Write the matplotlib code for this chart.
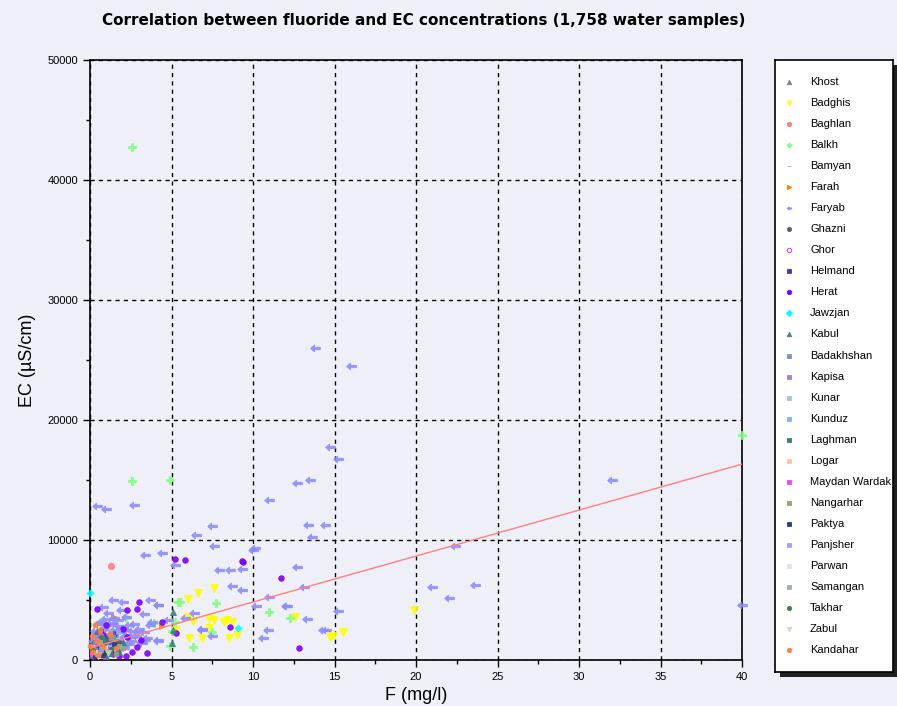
import matplotlib
matplotlib.use("Agg")
import matplotlib.pyplot as plt
from matplotlib.patches import Rectangle
from matplotlib.path import Path

TITLE = "Correlation between fluoride and EC concentrations (1,758 water samples)"
XLABEL = "F (mg/l)"
YLABEL = "EC (\u00b5S/cm)"
x_ticks = [0, 5, 10, 15, 20, 25, 30, 35, 40]
y_ticks = [0, 10000, 20000, 30000, 40000, 50000]

# regression line
REG_INTERCEPT = 1000
REG_SLOPE = 383

provinces = ["Khost", "Badghis", "Baghlan", "Balkh", "Bamyan", "Farah", "Faryab",
             "Ghazni", "Ghor", "Helmand", "Herat", "Jawzjan", "Kabul", "Badakhshan",
             "Kapisa", "Kunar", "Kunduz", "Laghman", "Logar", "Maydan Wardak",
             "Nangarhar", "Paktya", "Panjsher", "Parwan", "Samangan", "Takhar",
             "Zabul", "Kandahar"]

# ---- data (F mg/l, EC uS/cm) ----
khost_f = [0.4, 0.8, 1.1, 0.6]
khost_ec = [900, 1300, 700, 1600]

badghis_f = [6.6, 7.6, 6.0, 7.3, 7.6, 6.3, 6.0, 8.2, 8.4, 8.7, 7.3, 6.1, 6.9, 8.5, 9.0,
             12.6, 5.3, 15.5, 14.7, 14.9, 19.9, 0.5, 1.2]
badghis_ec = [5550, 6000, 5100, 3400, 3300, 3250, 3600, 3200, 3300, 3200, 2700, 1850,
              1850, 1850, 2100, 3600, 2500, 2350, 1950, 2000, 4200, 2900, 1800]

baghlan_f = [1.3, 0.3, 0.7, 1.0, 1.5, 0.2, 0.9]
baghlan_ec = [7850, 1400, 2100, 900, 1700, 600, 2700]

balkh_f = [2.6, 40.0, 2.6, 4.9, 7.7, 5.5, 5.2, 5.0, 7.5, 4.9, 6.3, 11.0, 12.3, 2.2,
           3.9, 5.4, 0.8, 1.6, 0.4]
balkh_ec = [42750, 18750, 14900, 15000, 4750, 4850, 3200, 2400, 2350, 1150, 1050,
            4000, 3500, 3500, 3100, 4850, 2700, 1900, 1300]

bamyan_f = [0.3, 0.7, 1.2]
bamyan_ec = [500, 1100, 800]

farah_f = [4.4, 1.5, 0.6, 1.0, 2.2, 0.2, 1.8]
farah_ec = [2850, 3600, 2300, 1600, 1200, 1000, 2600]

faryab_f = [13.8, 16.0, 14.7, 15.2, 13.5, 12.7, 11.0, 13.4, 14.4, 13.6, 10.1, 0.4, 1.0,
            2.7, 7.5, 6.5, 7.6, 3.4, 4.4, 5.2, 7.9, 8.6, 9.3, 8.7, 9.3, 10.0, 12.7,
            10.2, 11.0, 12.1, 6.4, 6.9, 7.5, 4.2, 4.2, 5.8, 10.9, 10.6, 13.1, 12.0,
            13.3, 14.3, 14.5, 15.2, 21.0, 22.0, 23.6, 22.4, 32.0, 40.0,
            1.4, 2.0, 3.7, 4.2, 3.3, 3.8, 4.8, 3.4, 4.2, 6.9,
            0.3, 0.5, 0.6, 0.8, 0.9, 1.0, 1.1, 1.2, 1.3, 1.4, 1.5, 1.6, 1.7, 1.8,
            1.9, 2.0, 2.1, 2.2, 2.3, 2.4, 2.5, 2.6, 2.8, 3.0, 3.1, 3.3, 3.5, 3.7,
            0.2, 0.4, 0.7, 1.0, 1.2, 1.5, 1.8, 2.0, 2.2, 2.6, 2.9, 3.2, 0.5, 0.9,
            1.3, 1.6, 2.1, 2.4, 2.7, 1.1, 1.9, 0.8]
faryab_ec = [26000, 24500, 17750, 16750, 15000, 14750, 13350, 11250, 11250, 10250,
             9300, 12800, 12550, 12900, 11200, 10400, 9500, 8750, 8900, 7900, 7500,
             7500, 7600, 6200, 5800, 9200, 7750, 4500, 5250, 4500, 3900, 2600, 2000,
             4600, 1700, 3500, 2500, 1800, 6100, 4500, 3400, 2500, 2500, 4100, 6100,
             5200, 6250, 9500, 15000, 4600,
             5000, 4800, 5000, 4600, 3800, 3200, 3300, 1700, 1600, 2500,
             2400, 3000, 1800, 2600, 3400, 2200, 1500, 2900, 3100, 2000, 2500, 1700,
             3300, 2300, 1400, 2700, 1900, 3600, 2100, 2900, 1600, 2400, 2000, 2600,
             1500, 2300, 1800, 2900, 1600, 2100, 3200, 1300, 1900, 3500, 2800, 1200,
             2500, 1900, 2300, 1400, 1100, 900, 1200, 1500, 1000, 1300, 3000, 3900,
             4200, 4400]

ghazni_f = [0.5, 1.1, 0.8, 1.6]
ghazni_ec = [1000, 600, 1900, 1300]

ghor_f = [0.2, 0.6, 1.0, 1.4, 0.9, 0.3]
ghor_ec = [300, 900, 400, 1100, 1600, 2000]

helmand_f = [0.4, 0.9, 1.3, 0.7]
helmand_ec = [1200, 1800, 800, 2400]

herat_f = [5.2, 5.8, 9.3, 9.4, 11.7, 12.8, 0.4, 3.0, 2.3, 2.9, 1.8, 5.3, 8.6, 4.4,
           0.3, 0.6, 0.9, 1.2, 1.5, 1.8, 2.0, 2.3, 2.6, 2.9, 3.1, 3.5, 1.0, 1.4,
           2.2, 0.8]
herat_ec = [8400, 8300, 8250, 8200, 6800, 1000, 4250, 4800, 4200, 4250, 300, 2250,
            2750, 3200, 400, 1200, 800, 1600, 2200, 1400, 2600, 1900, 700, 1100, 1700,
            600, 2900, 500, 300, 2100]

jawzjan_f = [0.0, 9.1, 0.5]
jawzjan_ec = [5600, 2700, 1500]

kabul_f = [5.1, 5.1, 5.0, 0.1, 0.3, 0.5, 0.7, 0.9, 1.1, 1.3, 1.5, 1.7, 0.2, 0.6, 1.0,
           1.4, 1.8, 2.0, 0.4, 0.8]
kabul_ec = [4000, 2500, 1400, 400, 800, 1300, 500, 1000, 1700, 600, 1200, 900, 1500,
            2000, 300, 2200, 700, 1500, 2400, 1900]

badakhshan_f = [0.3, 0.8, 1.4]
badakhshan_ec = [1500, 700, 1900]

kapisa_f = [0.4, 1.0]
kapisa_ec = [800, 1300]

kunar_f = [0.2, 0.9]
kunar_ec = [600, 1000]

kunduz_f = [0.5, 1.2, 1.7]
kunduz_ec = [1700, 1100, 2300]

laghman_f = [0.3, 0.7, 1.1]
laghman_ec = [700, 1400, 500]

logar_f = [0.2, 0.6]
logar_ec = [1100, 500]

wardak_f = [0.1, 0.4, 0.8, 1.2, 0.6]
wardak_ec = [500, 1500, 300, 900, 2200]

nangarhar_f = [0.2, 0.5, 0.9, 1.3, 1.6, 2.0, 0.7]
nangarhar_ec = [1000, 600, 1200, 1800, 500, 1000, 2000]

paktya_f = [0.3, 0.6, 1.0, 1.5, 0.8]
paktya_ec = [300, 1100, 700, 1300, 400]

panjsher_f = [0.4, 0.7]
panjsher_ec = [500, 1000]

parwan_f = [0.3, 0.9]
parwan_ec = [700, 1200]

samangan_f = [0.6, 1.2, 1.8]
samangan_ec = [1500, 2300, 1200]

takhar_f = [0.2, 0.5, 0.9, 1.3, 1.7, 0.7]
takhar_ec = [800, 400, 1400, 900, 1600, 1900]

zabul_f = [0.5, 1.1]
zabul_ec = [300, 600]

kandahar_f = [0.0, 0.1, 0.2, 0.4, 0.6, 0.3, 0.8, 1.2, 0.5, 1.6]
kandahar_ec = [1200, 2000, 700, 1600, 2500, 2900, 1100, 2200, 400, 1000]

series_x = [khost_f, badghis_f, baghlan_f, balkh_f, bamyan_f, farah_f, faryab_f,
            ghazni_f, ghor_f, helmand_f, herat_f, jawzjan_f, kabul_f, badakhshan_f,
            kapisa_f, kunar_f, kunduz_f, laghman_f, logar_f, wardak_f, nangarhar_f,
            paktya_f, panjsher_f, parwan_f, samangan_f, takhar_f, zabul_f, kandahar_f]
series_y = [khost_ec, badghis_ec, baghlan_ec, balkh_ec, bamyan_ec, farah_ec, faryab_ec,
            ghazni_ec, ghor_ec, helmand_ec, herat_ec, jawzjan_ec, kabul_ec, badakhshan_ec,
            kapisa_ec, kunar_ec, kunduz_ec, laghman_ec, logar_ec, wardak_ec, nangarhar_ec,
            paktya_ec, panjsher_ec, parwan_ec, samangan_ec, takhar_ec, zabul_ec, kandahar_ec]

arrow = Path([(-1, 0), (-0.2, 0.7), (-0.2, 0.25), (1, 0.25), (1, -0.25), (-0.2, -0.25),
              (-0.2, -0.7), (-1, 0)], closed=True)

styles = {
    "Khost": dict(marker="^", color="#808080", ms=4),
    "Badghis": dict(marker="v", color="#FFFF00", ms=5.5),
    "Baghlan": dict(marker="o", color="#FF8080", ms=4.5),
    "Balkh": dict(marker="P", color="#80FF80", ms=5.5),
    "Bamyan": dict(marker="_", color="#B0B0B0", ms=4),
    "Farah": dict(marker=">", color="#FF8000", ms=4.5),
    "Faryab": dict(marker=arrow, color="#8C8CFF", ms=7),
    "Ghazni": dict(marker="o", color="#606060", ms=3),
    "Ghor": dict(marker="o", color="#FF00FF", ms=4, mfc="none"),
    "Helmand": dict(marker="s", color="#4040A0", ms=2.5),
    "Herat": dict(marker="o", color="#8000FF", ms=4),
    "Jawzjan": dict(marker="D", color="#00FFFF", ms=3.5),
    "Kabul": dict(marker="^", color="#408080", ms=4),
    "Badakhshan": dict(marker="s", color="#8090C0", ms=2.5),
    "Kapisa": dict(marker="s", color="#A080D0", ms=2.5),
    "Kunar": dict(marker="s", color="#A0C8C8", ms=2.5),
    "Kunduz": dict(marker="s", color="#80B0FF", ms=2.5),
    "Laghman": dict(marker="s", color="#408060", ms=2.5),
    "Logar": dict(marker="s", color="#FFC0A0", ms=2.5),
    "Maydan Wardak": dict(marker="s", color="#FF40FF", ms=2.5),
    "Nangarhar": dict(marker="s", color="#A0A070", ms=2.5),
    "Paktya": dict(marker="s", color="#204080", ms=2.5),
    "Panjsher": dict(marker="s", color="#A0A0FF", ms=2.5),
    "Parwan": dict(marker="s", color="#E0E0E0", ms=2.5),
    "Samangan": dict(marker="s", color="#A0B0A0", ms=2.5),
    "Takhar": dict(marker="o", color="#408040", ms=3),
    "Zabul": dict(marker="v", color="#C0E0C0", ms=4),
    "Kandahar": dict(marker="o", color="#FF8040", ms=3.5),
}

W, H = 897, 706
BG = "#EFEFF8"
FONT = "Liberation Sans"
fig = plt.figure(figsize=(W / 100, H / 100), dpi=100, facecolor=BG)
ax = fig.add_axes([90 / W, 1 - 660 / H, (742 - 90) / W, (660 - 60) / H], facecolor=BG)

for name, xs, ys in zip(provinces, series_x, series_y):
    st = dict(styles[name])
    mfc = st.pop("mfc", None)
    ax.plot(xs, ys, linestyle="none", marker=st["marker"], color=st["color"],
            markersize=st["ms"], markeredgewidth=0.6 if st["marker"] != "_" else 1.5,
            markerfacecolor=mfc if mfc else st["color"], alpha=0.9, zorder=3,
            clip_on=False)

xl = [x_ticks[0], x_ticks[-1]]
ax.plot(xl, [REG_INTERCEPT + REG_SLOPE * v for v in xl], color="#FF8080", lw=1, zorder=4)

ax.set_xlim(0, 40)
ax.set_ylim(0, 50000)
ax.set_xticks(x_ticks)
ax.set_yticks(y_ticks)
ax.set_xticks([2.5 + 5 * i for i in range(8)], minor=True)
ax.set_yticks([5000 + 10000 * i for i in range(5)], minor=True)
ax.tick_params(which="major", direction="out", length=5, width=1, labelsize=8, color="black")
ax.tick_params(which="minor", direction="out", length=3, width=1)
for lab in ax.get_xticklabels() + ax.get_yticklabels():
    lab.set_family(FONT)
ax.grid(True, which="major", color="black", linestyle=(0, (3, 3)), linewidth=1)
ax.set_axisbelow(True)
for sp in ax.spines.values():
    sp.set_linewidth(1.2)
ax.set_xlabel(XLABEL, fontsize=13, labelpad=4, family=FONT)
ax.set_ylabel(YLABEL, fontsize=13, labelpad=8, family=FONT)

fig.text(424 / W, 1 - 20 / H, TITLE, ha="center", va="center", fontsize=11,
         fontweight="bold")

# legend panel
lx0, ly0, lx1, ly1 = 775, 60, 893, 672
shadow = Rectangle(((lx0 + 5) / W, 1 - (ly1 + 5) / H), (lx1 - lx0) / W,
                   (ly1 - ly0) / H, transform=fig.transFigure,
                   facecolor="#202020", edgecolor="none", zorder=1)
fig.patches.append(shadow)
lax = fig.add_axes([lx0 / W, 1 - ly1 / H, (lx1 - lx0) / W, (ly1 - ly0) / H],
                   facecolor="white")
lax.set_zorder(3)
lax.set_xlim(lx0, lx1)
lax.set_ylim(ly1, ly0)
lax.set_xticks([])
lax.set_yticks([])
for sp in lax.spines.values():
    sp.set_linewidth(1.2)
for i, name in enumerate(provinces):
    yy = 82 + i * 21.04
    st = dict(styles[name])
    mfc = st.pop("mfc", None)
    lax.plot([789], [yy], linestyle="none", marker=st["marker"], color=st["color"],
             markersize=min(st["ms"], 3.2), markeredgewidth=0.6,
             markerfacecolor=mfc if mfc else st["color"])
    t = lax.text(810, yy, name, fontsize=8, va="center", ha="left", family=FONT)
    t.set_clip_on(True)

fig.savefig("out.png", dpi=100, facecolor=BG)
